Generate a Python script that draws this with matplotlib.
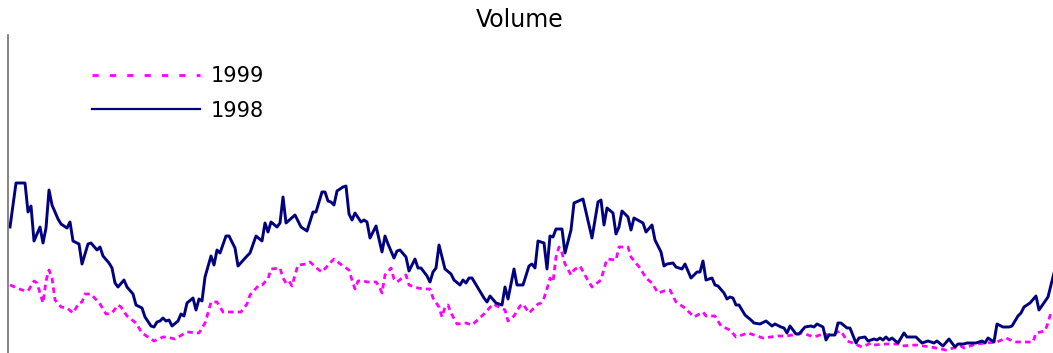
import matplotlib
matplotlib.use("Agg")
import matplotlib.pyplot as plt
from matplotlib.lines import Line2D

plt.rcParams['font.family'] = ['DejaVu Sans']
plt.rcParams['lines.scale_dashes'] = False

# 1998 volume (day index, value)
days_1998 = [0, 2, 5, 6, 7, 8, 10, 11, 12, 13, 14, 16, 17, 19, 20, 21, 23, 24, 26, 27,
             29, 30, 31, 33, 34, 35, 36, 38, 39, 41, 42, 44, 45, 47, 48, 49, 50, 51, 52, 53,
             54, 56, 57, 58, 59, 61, 62, 63, 64, 65, 67, 68, 69, 70, 72, 73, 74, 75, 76, 79,
             80, 82, 84, 85, 86, 87, 89, 90, 91, 92, 95, 97, 99, 101, 102, 104, 105, 106, 107, 108,
             109, 111, 112, 113, 114, 115, 117, 118, 119, 120, 122, 124, 125, 126, 128, 129, 130, 132, 133, 135,
             136, 137, 139, 140, 141, 142, 143, 145, 147, 148, 150, 151, 152, 153, 154, 156, 158, 159, 160, 162,
             164, 165, 166, 168, 169, 171, 173, 174, 175, 176, 178, 179, 180, 181, 182, 184, 185, 187, 188, 191,
             194, 196, 197, 198, 199, 201, 202, 203, 204, 206, 207, 208, 211, 212, 214, 215, 217, 218, 219, 221,
             222, 224, 225, 227, 229, 230, 231, 232, 234, 235, 236, 238, 239, 240, 241, 242, 243, 245, 247, 248,
             250, 252, 254, 255, 257, 258, 259, 260, 262, 263, 265, 267, 268, 269, 271, 272, 273, 275, 276, 277,
             279, 280, 282, 283, 285, 286, 288, 289, 290, 291, 292, 293, 294, 296, 298, 299, 302, 304, 306, 308,
             309, 311, 313, 315, 316, 318, 319, 320, 322, 324, 325, 326, 328, 329, 331, 333, 334, 336, 337, 338,
             340, 342, 343, 346, 348]
vol_1998 = [126, 170, 170, 141, 147, 112, 126, 110, 125, 163, 148, 134, 129, 125, 131, 112, 109, 89, 109, 110,
            103, 106, 97, 90, 85, 70, 66, 73, 66, 59, 48, 45, 36, 27, 26, 31, 32, 35, 32, 33,
            27, 32, 39, 37, 50, 55, 43, 54, 52, 76, 97, 88, 103, 100, 117, 117, 111, 105, 87, 97,
            100, 117, 112, 130, 121, 131, 126, 130, 156, 130, 138, 126, 122, 141, 141, 161, 161, 152, 151, 148,
            162, 166, 167, 139, 133, 140, 131, 133, 131, 115, 127, 101, 117, 109, 95, 102, 103, 96, 82, 94,
            85, 85, 77, 71, 81, 85, 108, 84, 79, 73, 68, 73, 70, 75, 75, 65, 55, 51, 57, 50,
            48, 66, 54, 84, 68, 68, 87, 89, 85, 112, 110, 84, 117, 116, 124, 124, 100, 123, 150, 154,
            115, 151, 153, 128, 145, 140, 119, 126, 142, 136, 123, 135, 130, 121, 128, 113, 101, 87, 89, 90,
            86, 84, 89, 75, 81, 81, 92, 73, 75, 68, 67, 60, 54, 56, 55, 48, 48, 38, 33, 30,
            29, 32, 27, 29, 26, 25, 20, 27, 19, 19, 26, 27, 26, 29, 26, 13, 18, 18, 30, 30,
            25, 25, 10, 15, 16, 12, 14, 13, 15, 13, 16, 13, 15, 10, 20, 16, 16, 10, 12, 10,
            12, 7, 14, 6, 9, 9, 10, 10, 10, 12, 10, 15, 11, 29, 26, 26, 27, 37, 40, 46,
            50, 57, 43, 56, 80]

# 1999 volume (day index, value)
days_1999 = [0, 4, 6, 8, 9, 10, 11, 12, 13, 14, 15, 17, 19, 21, 23, 24, 25, 27, 30, 32,
             34, 36, 37, 39, 42, 44, 48, 51, 52, 55, 59, 63, 65, 66, 67, 69, 71, 73, 75, 77,
             79, 80, 83, 84, 86, 87, 90, 91, 92, 93, 94, 95, 96, 99, 100, 103, 104, 107, 108, 111,
             113, 114, 115, 116, 118, 119, 122, 123, 124, 125, 127, 128, 129, 132, 133, 136, 138, 140, 141, 143,
             144, 145, 146, 147, 149, 152, 154, 158, 161, 165, 166, 168, 170, 171, 173, 176, 177, 178, 179, 180,
             181, 182, 183, 184, 185, 187, 188, 190, 192, 194, 197, 198, 199, 202, 203, 206, 207, 210, 212, 214,
             216, 218, 220, 222, 225, 228, 231, 232, 235, 237, 240, 242, 246, 251, 256, 259, 264, 268, 269, 271,
             273, 277, 279, 281, 284, 287, 288, 292, 296, 297, 302, 307, 312, 317, 318, 322, 329, 332, 335, 341,
             342, 345, 346, 347]
vol_1999 = [68, 63, 62, 72, 70, 60, 50, 72, 83, 75, 53, 46, 45, 40, 50, 51, 59, 59, 49, 39,
            40, 48, 46, 37, 30, 20, 12, 16, 16, 14, 21, 20, 30, 40, 51, 51, 41, 41, 41, 41,
            49, 58, 68, 68, 74, 84, 85, 75, 70, 72, 67, 78, 88, 89, 91, 83, 81, 91, 94, 87,
            83, 73, 64, 72, 72, 71, 71, 67, 60, 78, 85, 74, 71, 78, 68, 65, 64, 64, 55, 46,
            36, 46, 48, 40, 29, 30, 28, 39, 49, 43, 32, 37, 47, 49, 40, 49, 50, 55, 64, 75,
            71, 96, 106, 100, 89, 78, 83, 87, 76, 66, 73, 84, 94, 93, 106, 106, 96, 85, 75, 70,
            60, 62, 63, 51, 45, 36, 41, 37, 37, 27, 23, 16, 20, 15, 17, 17, 20, 16, 17, 19,
            18, 22, 12, 10, 6, 10, 8, 9, 9, 7, 8, 6, 3, 7, 5, 9, 11, 15, 11, 11,
            20, 22, 30, 41]

NAVY = '#000080'
MAGENTA = '#ff00ff'

fig = plt.figure(figsize=(10.53, 3.53), dpi=100)
ax = fig.add_axes([8 / 1053, 0, 1 - 8 / 1053, 318 / 353])

ax.plot(days_1999, vol_1999, color=MAGENTA, lw=2.0, dashes=(4, 3))
ax.plot(days_1998, vol_1998, color=NAVY, lw=2.1)

ax.set_xlim(-0.67, 347.67)
ax.set_ylim(0, 318)
ax.set_xticks([])
ax.set_yticks([])
for side in ['top', 'right', 'bottom']:
    ax.spines[side].set_visible(False)
ax.spines['left'].set_color('#707070')
ax.spines['left'].set_linewidth(1.2)

# legend handles use the longer dash seen in the key
handles = [Line2D([], [], color=MAGENTA, lw=2.0, dashes=(4.5, 8)),
           Line2D([], [], color=NAVY, lw=1.6)]
ax.legend(handles, ['1999', '1998'], loc='upper left', frameon=False,
          bbox_to_anchor=(0.080, 0.902), fontsize=15, handlelength=5.2,
          handletextpad=0.5, labelspacing=0.69, borderaxespad=0,
          borderpad=0)

fig.text(520 / 1053, 1 - 20 / 353, 'Volume', ha='center', va='center', fontsize=17)

fig.savefig('out.png', dpi=100)
